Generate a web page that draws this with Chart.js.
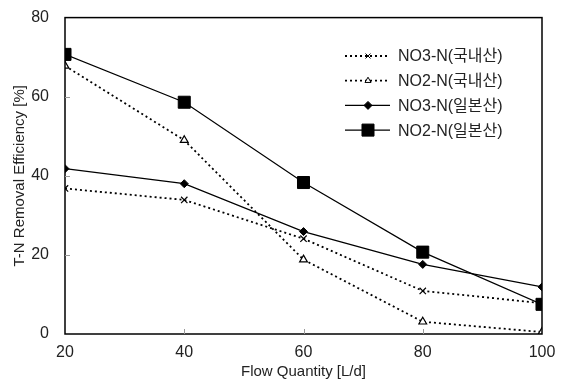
<!DOCTYPE html>
<html><head><meta charset="utf-8">
<script src="https://cdn.jsdelivr.net/npm/chart.js@4/dist/chart.umd.min.js"></script>
<style>html,body{margin:0;padding:0;background:#fff}#wrap{width:566px;height:382px}</style>
</head><body><div id="wrap"><canvas id="c"></canvas></div>
<script>
const flow = [20, 40, 60, 80, 100];
const no3Domestic = [36.8, 33.9, 24.1, 10.9, 7.8];
const no2Domestic = [67.8, 49.0, 18.8, 3.1, 0.5];
const no3Japan = [41.8, 38.0, 25.9, 17.6, 11.9];
const no2Japan = [70.7, 58.6, 38.3, 20.7, 7.5];
const seriesNames = ['NO3-N(국내산)', 'NO2-N(국내산)', 'NO3-N(일본산)', 'NO2-N(일본산)'];
const yTicks = [0, 20, 40, 60, 80];
const xTicks = [20, 40, 60, 80, 100];

const FONT = "'Liberation Sans', 'Noto Sans CJK KR', sans-serif";
const pts = arr => arr.map((v, i) => ({x: flow[i], y: v}));

const datasets = [
  {label: seriesNames[0], data: pts(no3Domestic), borderColor: '#000', borderWidth: 1.8, borderDash: [2, 3],
   pointStyle: 'crossRot', pointRadius: 4.5, pointBorderWidth: 1.2, pointBorderColor: '#000', pointBackgroundColor: '#000'},
  {label: seriesNames[1], data: pts(no2Domestic), borderColor: '#000', borderWidth: 1.8, borderDash: [2, 3],
   pointStyle: 'triangle', pointRadius: 4.5, pointBorderWidth: 1.2, pointBorderColor: '#000', pointBackgroundColor: '#fff'},
  {label: seriesNames[2], data: pts(no3Japan), borderColor: '#000', borderWidth: 1.2,
   pointStyle: 'rectRot', pointRadius: 4, pointBorderWidth: 1, pointBorderColor: '#000', pointBackgroundColor: '#000'},
  {label: seriesNames[3], data: pts(no2Japan), borderColor: '#000', borderWidth: 1.2,
   pointStyle: 'rect', pointRadius: 8.5, pointBorderWidth: 1, pointBorderColor: '#000', pointBackgroundColor: '#000'}
];

const framePlugin = {
  id: 'frame',
  afterDatasetsDraw(chart) {
    const {ctx, chartArea: a, scales: {x, y}} = chart;
    ctx.save();
    ctx.strokeStyle = '#000';
    ctx.lineWidth = 1.5;
    ctx.strokeRect(a.left, a.top, a.right - a.left, a.bottom - a.top);
    ctx.lineWidth = 1;
    ctx.strokeStyle = '#999';
    ctx.beginPath();
    yTicks.slice(1, -1).forEach(v => { const py = Math.round(y.getPixelForValue(v)) + 0.5; ctx.moveTo(a.left, py); ctx.lineTo(a.left + 5, py); });
    xTicks.slice(1, -1).forEach(v => { const px = Math.round(x.getPixelForValue(v)) + 0.5; ctx.moveTo(px, a.bottom); ctx.lineTo(px, a.bottom - 5); });
    ctx.stroke();
    // legend
    const lx = 345, ly0 = 56, dy = 24.7;
    ctx.font = '16px ' + FONT;
    ctx.textBaseline = 'middle';
    chart.data.datasets.forEach((ds, i) => {
      const yy = ly0 + i * dy;
      ctx.save();
      ctx.strokeStyle = ds.borderColor;
      ctx.lineWidth = ds.borderWidth;
      ctx.setLineDash(ds.borderDash || []);
      ctx.beginPath(); ctx.moveTo(lx, yy); ctx.lineTo(lx + 45, yy); ctx.stroke();
      ctx.restore();
      ctx.fillStyle = ds.pointBackgroundColor; ctx.strokeStyle = ds.pointBorderColor;
      const r = ds.pointStyle === 'rect' ? 8.5 : ds.pointStyle === 'rectRot' ? 4 : ds.pointRadius - 1;
      Chart.helpers.drawPoint(ctx, {pointStyle: ds.pointStyle, radius: r, borderWidth: ds.pointBorderWidth}, lx + 23, yy);
      ctx.fillStyle = '#222';
      ctx.fillText(ds.label, lx + 53, yy + 1);
    });
    ctx.restore();
  }
};

new Chart(document.getElementById('c'), {
  type: 'line',
  data: {datasets},
  options: {
    responsive: true, maintainAspectRatio: false, animation: false,
    layout: {padding: {left: 0, right: 24, top: 16, bottom: 0}},
    plugins: {legend: {display: false}, tooltip: {enabled: false}},
    scales: {
      x: {type: 'linear', min: 20, max: 100,
          afterBuildTicks: s => { s.ticks = xTicks.map(v => ({value: v})); },
          afterFit: s => { s.height = 48; },
          grid: {display: false}, border: {display: false},
          ticks: {color: '#222', font: {size: 16, family: FONT}, padding: 1, maxRotation: 0},
          title: {display: true, text: 'Flow Quantity [L/d]', color: '#222', font: {size: 15, family: FONT}, padding: {top: 0, bottom: 1}}},
      y: {min: 0, max: 80,
          afterBuildTicks: s => { s.ticks = yTicks.map(v => ({value: v})); },
          afterFit: s => { s.width = 65; },
          grid: {display: false}, border: {display: false},
          ticks: {color: '#222', font: {size: 16, family: FONT}, padding: 8},
          title: {display: true, text: 'T-N Removal Efficiency [%]', color: '#222', font: {size: 15, family: FONT}, padding: {top: 11, bottom: 0}}}
    }
  },
  plugins: [framePlugin]
});
</script></body></html>
